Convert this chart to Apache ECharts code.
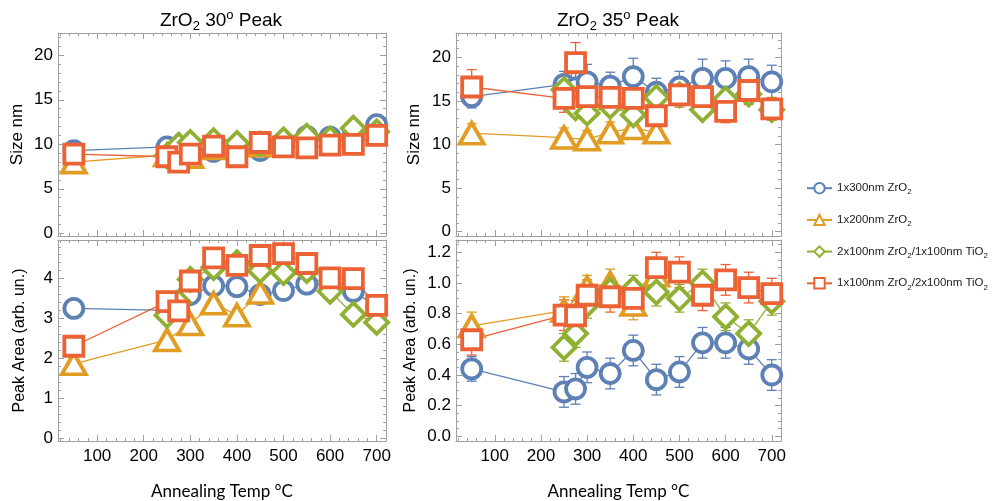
<!DOCTYPE html>
<html>
<head>
<meta charset="utf-8">
<title>ZrO2 peak size and area</title>
<script src="https://cdn.jsdelivr.net/npm/echarts@6/dist/echarts.min.js"></script>
<style>
  html, body { margin: 0; padding: 0; background: #fff; }
  #main { width: 998px; height: 501px; }
</style>
</head>
<body>
<div id="main"></div>
<script>
// annealing temperatures (°C) for each sample
var tempsA = [50, 250, 275, 300, 350, 400, 450, 500, 550, 600, 650, 700];
var tempsB = [50, 250, 300, 350, 400, 450];
var tempsC = [250, 275, 300, 350, 400, 450, 500, 550, 600, 650, 700];
var tempsD = [50, 250, 275, 300, 350, 400, 450, 500, 550, 600, 650, 700];

// 30 deg peak, size (nm)
var size30A = [9.3, 9.7, 9.5, 9.5, 9.2, 9.8, 9.3, 9.8, 10.9, 10.8, 11.0, 12.2];
var size30B = [8.0, 8.8, 8.6, 9.6, 10.0, 9.9];
var size30C = [8.7, 9.9, 10.2, 10.4, 10.1, 10.0, 10.5, 10.9, 10.6, 11.8, 11.4];
var size30D = [8.9, 8.6, 8.0, 8.9, 9.8, 8.6, 10.2, 9.7, 9.6, 9.9, 10.0, 11.0];

// 30 deg peak, area
var area30A = [3.25, 3.2, 3.25, 3.6, 3.82, 3.8, 3.6, 3.7, 3.86, 3.85, 3.68, 3.3];
var area30B = [1.86, 2.46, 2.86, 3.38, 3.08, 3.65];
var area30C = [3.08, 3.4, 3.98, 4.28, 4.4, 4.2, 4.15, 4.2, 3.68, 3.1, 2.9];
var area30D = [2.3, 3.42, 3.19, 3.94, 4.52, 4.33, 4.58, 4.63, 4.38, 4.02, 4.0, 3.33];

// 35 deg peak, size (nm) and error
var size35A = [15.5, 16.9, 16.5, 17.2, 16.7, 17.8, 16.0, 16.6, 17.6, 17.6, 17.8, 17.2];
var size35B = [11.3, 10.8, 10.6, 11.4, 11.9, 11.4];
var size35C = [16.3, 14.2, 13.6, 14.4, 13.4, 15.4, 15.7, 14.0, 15.2, 15.8, 14.0];
var size35D = [16.6, 15.3, 19.4, 15.5, 15.4, 15.3, 13.3, 15.7, 15.5, 13.8, 16.2, 14.1];
var sizeErr35A = [1.3, 1.5, 1.8, 2.0, 1.6, 2.1, 1.6, 1.8, 2.2, 2.0, 2.0, 1.9];
var sizeErr35B = [1.1, 1.1, 1.0, 1.2, 1.2, 1.1];
var sizeErr35C = [1.0, 1.0, 1.0, 1.0, 1.0, 1.1, 1.0, 1.0, 1.0, 1.0, 1.0];
var sizeErr35D = [2.0, 1.6, 2.3, 1.6, 1.6, 1.6, 1.3, 1.4, 1.5, 1.3, 1.6, 1.3];

// 35 deg peak, area and error
var area35A = [0.44, 0.29, 0.31, 0.45, 0.41, 0.56, 0.37, 0.42, 0.61, 0.61, 0.57, 0.40];
var area35B = [0.72, 0.82, 0.97, 1.0, 0.86, 1.05];
var area35C = [0.58, 0.67, 0.86, 0.95, 0.96, 0.94, 0.90, 1.0, 0.78, 0.67, 0.88];
var area35D = [0.63, 0.79, 0.785, 0.92, 0.91, 0.90, 1.10, 1.07, 0.92, 1.02, 0.97, 0.93];
var areaErr35A = [0.08, 0.1, 0.1, 0.1, 0.1, 0.1, 0.1, 0.1, 0.1, 0.1, 0.1, 0.1];
var areaErr35B = [0.09, 0.09, 0.08, 0.09, 0.1, 0.09];
var areaErr35C = [0.09, 0.09, 0.09, 0.09, 0.09, 0.09, 0.09, 0.09, 0.09, 0.09, 0.09];
var areaErr35D = [0.1, 0.1, 0.1, 0.1, 0.1, 0.1, 0.1, 0.1, 0.1, 0.1, 0.1, 0.1];

var names = ['1x300nm ZrO2', '1x200nm ZrO2', '2x100nm ZrO2/1x100nm TiO2', '1x100nm ZrO2/2x100nm TiO2'];
var legendRich = [
    '{t|1x300nm ZrO}{s|2}',
    '{t|1x200nm ZrO}{s|2}',
    '{t|2x100nm ZrO}{s|2}{t|/1x100nm TiO}{s|2}',
    '{t|1x100nm ZrO}{s|2}{t|/2x100nm TiO}{s|2}'
];
var temps = [tempsA, tempsB, tempsC, tempsD];

var colors = ['#5e81b5', '#e19c24', '#8fb032', '#eb6235'];
var symbols = ['circle', 'triangle', 'diamond', 'rect'];
var symSizes = [19, [24, 21], [23, 23], 19];
var frame = '#a0a0a0';
var font = 'Liberation Sans, Arial, sans-serif';

var panels = [
    { grid: { left: 58, top: 33, width: 328, height: 203 }, y: [-0.3, 22.5], step: 5, minor: 5, dec: false, gap: 32,
      vals: [size30A, size30B, size30C, size30D], errs: null, xlab: false, yName: 'Size nm' },
    { grid: { left: 58, top: 240, width: 328, height: 202 }, y: [-0.08, 4.97], step: 1, minor: 5, dec: false, gap: 30,
      vals: [area30A, area30B, area30C, area30D], errs: null, xlab: true, yName: 'Peak Area (arb. un.)' },
    { grid: { left: 456, top: 33, width: 325, height: 203 }, y: [-0.5, 22.8], step: 5, minor: 5, dec: false, gap: 33,
      vals: [size35A, size35B, size35C, size35D], errs: [sizeErr35A, sizeErr35B, sizeErr35C, sizeErr35D], xlab: false, yName: 'Size nm' },
    { grid: { left: 456, top: 240, width: 325, height: 202 }, y: [-0.03, 1.28], step: 0.2, minor: 4, dec: true, gap: 37,
      vals: [area35A, area35B, area35C, area35D], errs: [areaErr35A, areaErr35B, areaErr35C, areaErr35D], xlab: true, yName: 'Peak Area (arb. un.)' }
];

function stepFormatter(step, dec) {
    return function (v) {
        var k = v / step;
        if (Math.abs(k - Math.round(k)) > 1e-6) return '';
        return dec ? v.toFixed(1) : String(Math.round(v));
    };
}

var grids = [], xAxes = [], yAxes = [], series = [];

panels.forEach(function (p, i) {
    grids.push(p.grid);
    var tick = { show: true, inside: true, length: 6, lineStyle: { color: frame } };
    var minorTick = { show: true, length: 3, splitNumber: 5, lineStyle: { color: frame } };
    var line = { show: true, onZero: false, lineStyle: { color: frame, width: 1 } };
    var xBase = {
        type: 'value', gridIndex: i, min: 16, max: 720, splitNumber: 7,
        axisLine: line, axisTick: tick, minorTick: minorTick, splitLine: { show: false }
    };
    xAxes.push(Object.assign({}, xBase, {
        position: 'bottom',
        axisLabel: { show: p.xlab, color: '#000', fontSize: 17, fontFamily: font, margin: 7,
            showMinLabel: false, showMaxLabel: false, formatter: stepFormatter(100, false) },
        name: p.xlab ? 'Annealing Temp °C' : '', nameLocation: 'middle', nameGap: 42,
        nameTextStyle: { color: '#000', fontSize: 17, fontFamily: 'Lato, sans-serif' }
    }));
    xAxes.push(Object.assign({}, xBase, { position: 'top', axisLabel: { show: false } }));

    var yBase = {
        type: 'value', gridIndex: i, min: p.y[0], max: p.y[1], splitNumber: p.dec ? 7 : 5,
        axisLine: line, axisTick: tick,
        minorTick: { show: true, length: 3, splitNumber: p.minor, lineStyle: { color: frame } },
        splitLine: { show: false }
    };
    yAxes.push(Object.assign({}, yBase, {
        position: 'left',
        axisLabel: { color: '#000', fontSize: 17, fontFamily: font, margin: 5,
            showMinLabel: false, showMaxLabel: false, formatter: stepFormatter(p.step, p.dec) },
        name: p.yName, nameLocation: 'middle', nameGap: p.gap,
        nameTextStyle: { color: '#000', fontSize: i % 2 ? 16 : 17, fontFamily: font }
    }));
    yAxes.push(Object.assign({}, yBase, { position: 'right', axisLabel: { show: false } }));

    for (var s = 0; s < 4; s++) {
        var xs = temps[s], ys = p.vals[s];
        series.push({
            type: 'line', name: names[s], xAxisIndex: 2 * i, yAxisIndex: 2 * i,
            data: xs.map(function (x, k) { return [x, ys[k]]; }),
            symbol: symbols[s], symbolSize: symSizes[s], showAllSymbol: true,
            itemStyle: { color: '#fff', borderColor: colors[s], borderWidth: 3.8 },
            lineStyle: { color: colors[s], width: 1.3 },
            z: 3, silent: true, emphasis: { disabled: true }
        });
        if (p.errs) {
            var es = p.errs[s];
            series.push({
                type: 'custom', name: 'err', xAxisIndex: 2 * i, yAxisIndex: 2 * i, z: 2, silent: true,
                data: xs.map(function (x, k) { return [x, ys[k] - es[k], ys[k] + es[k]]; }),
                encode: { x: 0, y: [1, 2] },
                renderItem: (function (c) {
                    return function (params, api) {
                        var top = api.coord([api.value(0), api.value(2)]);
                        var bot = api.coord([api.value(0), api.value(1)]);
                        var st = { stroke: c, lineWidth: 1.3 };
                        return { type: 'group', children: [
                            { type: 'line', shape: { x1: top[0], y1: top[1], x2: bot[0], y2: bot[1] }, style: st },
                            { type: 'line', shape: { x1: top[0] - 5, y1: top[1], x2: top[0] + 5, y2: top[1] }, style: st },
                            { type: 'line', shape: { x1: bot[0] - 5, y1: bot[1], x2: bot[0] + 5, y2: bot[1] }, style: st }
                        ] };
                    };
                })(colors[s])
            });
        }
    }
});

var titleRich = {
    t: { fontSize: 19, fontFamily: font, color: '#000', lineHeight: 24 },
    s: { fontSize: 13, fontFamily: font, color: '#000', lineHeight: 13, verticalAlign: 'bottom' },
    p: { fontSize: 13, fontFamily: font, color: '#000', lineHeight: 13, verticalAlign: 'top' }
};

var chart = echarts.init(document.getElementById('main'));
chart.setOption({
    animation: false,
    grid: grids,
    xAxis: xAxes,
    yAxis: yAxes,
    series: series,
    legend: {
        data: names, orient: 'vertical', left: 801, top: 177,
        itemWidth: 25, itemHeight: 13, itemGap: 17.5, selectedMode: false,
        formatter: function (n) { return legendRich[names.indexOf(n)]; },
        textStyle: {
            rich: {
                t: { fontSize: 11.5, fontFamily: font, color: '#222', lineHeight: 16 },
                s: { fontSize: 8, fontFamily: font, color: '#222', lineHeight: 9, verticalAlign: 'bottom' }
            }
        }
    },
    graphic: [
        { type: 'text', x: 221, y: 21, style: { text: '{t|ZrO}{s|2}{t| 30}{p|o}{t| Peak}', rich: titleRich, align: 'center', verticalAlign: 'middle' } },
        { type: 'text', x: 618, y: 21, style: { text: '{t|ZrO}{s|2}{t| 35}{p|o}{t| Peak}', rich: titleRich, align: 'center', verticalAlign: 'middle' } }
    ]
});
</script>
</body>
</html>
